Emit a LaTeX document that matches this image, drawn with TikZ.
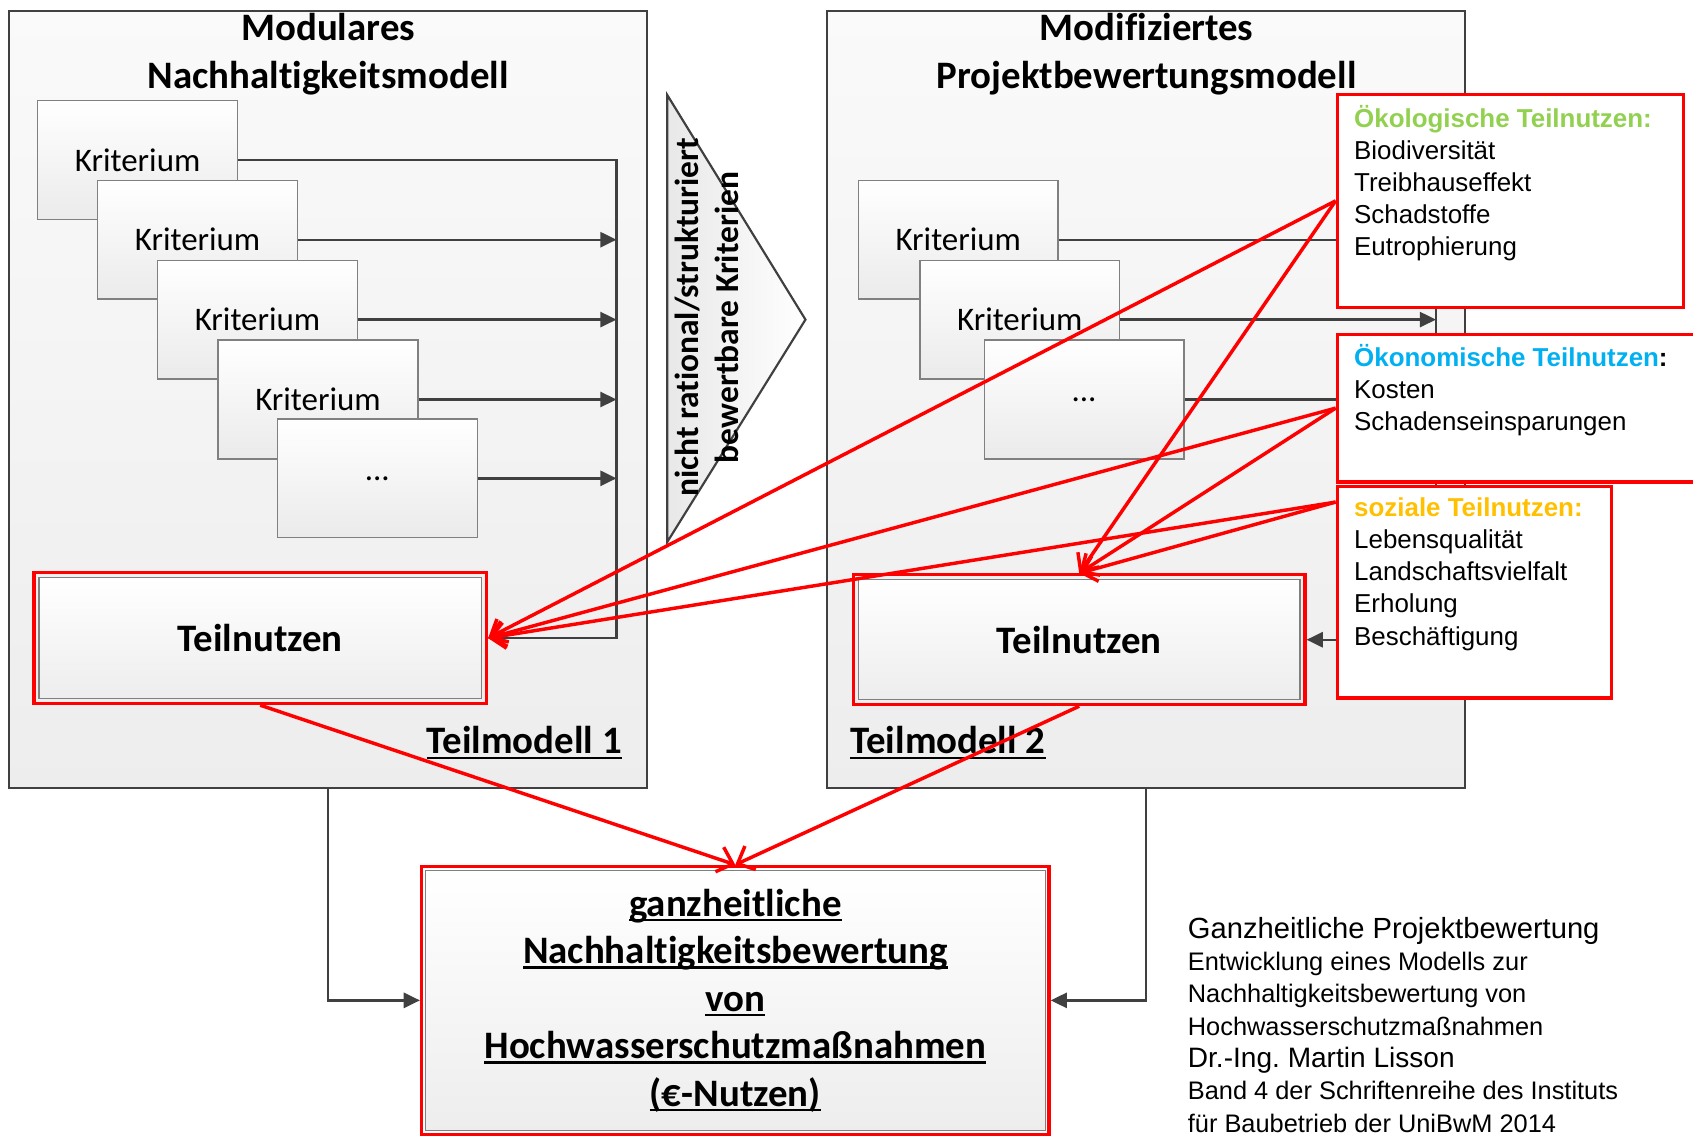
\documentclass[tikz,border=0pt]{standalone}
\usepackage{fontspec}
\setmainfont{Carlito}[Ligatures=NoCommon]
\newfontfamily\arialfont{Liberation Sans}
\usetikzlibrary{arrows.meta,fit}
\frenchspacing

\definecolor{dunkelgrau}{HTML}{404040}
\definecolor{rahmengrau}{HTML}{808080}
\definecolor{oekogruen}{HTML}{92D050}
\definecolor{oekoblau}{HTML}{00B0F0}
\definecolor{sozialgelb}{HTML}{FFC000}

% unterstrichener Text (dicker Strich wie im Original)
\newcommand{\unterstr}[1]{\setbox0\hbox{#1}\rlap{\rule[-5pt]{\wd0}{2.4pt}}\box0}

\tikzset{
  modbox/.style={draw=dunkelgrau, line width=2pt, top color=white!98!black,
    bottom color=white!93!black, minimum width=591pt, minimum height=720pt, inner sep=0pt},
  titel/.style={align=center, font=\bfseries\fontsize{36}{44}\selectfont},
  kritbox/.style={draw=rahmengrau, line width=1.2pt, top color=white, bottom color=black!8,
    minimum width=185pt, minimum height=110pt, inner sep=0pt, font=\fontsize{30.5}{36}\selectfont},
  teilbox/.style={draw=rahmengrau, line width=1.2pt, top color=white, bottom color=black!7,
    inner sep=0pt, font=\bfseries\fontsize{36}{44}\selectfont},
  rotrahmen/.style={draw=red, line width=3pt, inner sep=4pt},
  infobox/.style={draw=red, line width=3pt, fill=white, inner sep=0pt, anchor=north west},
  infotext/.style={align=left, inner sep=0pt, anchor=north west,
    font=\arialfont\fontsize{24}{29.7}\selectfont},
  graupfeil/.style={draw=dunkelgrau, line width=2.2pt, -{Triangle[length=15pt,width=14pt]}},
  graulinie/.style={draw=dunkelgrau, line width=2.2pt},
  rotpfeil/.style={draw=red, line width=3.2pt, -{Straight Barb[length=13pt,width=24pt]}},
  modname/.style={font=\bfseries\fontsize{36}{44}\selectfont, inner sep=0pt}
}

\begin{document}
\begin{tikzpicture}[x=1pt,y=-1pt]
\useasboundingbox (0,0) rectangle (1568,1052);

% Teilmodell 1
\node[modbox] (modL) at (303.5,370) {};
\node[titel] (titelL) at (304,50) {Modulares\\Nachhaltigkeitsmodell};
\node[kritbox] (kritL1) at (127.5,148) {Kriterium};
\node[kritbox] (kritL2) at (183,222) {Kriterium};
\node[kritbox] (kritL3) at (238.5,296) {Kriterium};
\node[kritbox] (kritL4) at (294.5,370) {Kriterium};
\node[kritbox] (kritL5) at (349.5,443) {...};
\node[teilbox, minimum width=410pt, minimum height=112pt] (teilL) at (241,591) {Teilnutzen};
\node[rotrahmen, fit=(teilL)] (teilLrot) {};
\coordinate (sammelL) at (571,148);
\draw[graupfeil] (kritL1.east) -- (sammelL) |- (teilLrot.east);
\draw[graupfeil] (kritL2.east) -- (kritL2.east -| sammelL);
\draw[graupfeil] (kritL3.east) -- (kritL3.east -| sammelL);
\draw[graupfeil] (kritL4.east) -- (kritL4.east -| sammelL);
\draw[graupfeil] (kritL5.east) -- (kritL5.east -| sammelL);
\node[modname] (nameL) at (485.5,688) {\unterstr{Teilmodell 1}};

% Pfeil in der Mitte
\filldraw[draw=dunkelgrau, line width=2pt, left color=black!9, right color=white]
  (618,88) -- (746,296) -- (618,502) -- cycle;
\node[align=center, rotate=90, inner sep=0pt, font=\bfseries\fontsize{31}{37}\selectfont]
  (pfeiltext) at (655,294) {nicht rational/strukturiert\\bewertbare Kriterien};

% Teilmodell 2
\node[modbox] (modR) at (1061.5,370) {};
\node[titel] (titelR) at (1062,50) {Modifiziertes\\Projektbewertungsmodell};
\node[kritbox] (kritR1) at (887.5,222) {Kriterium};
\node[kritbox] (kritR2) at (944.5,296) {Kriterium};
\node[kritbox] (kritR3) at (1004,370) {...};
\node[teilbox, minimum width=409pt, minimum height=111pt] (teilR) at (999.5,592.5) {Teilnutzen};
\node[rotrahmen, fit=(teilR)] (teilRrot) {};
\coordinate (sammelR) at (1330,222);
\draw[graupfeil] (kritR1.east) -- (sammelR) |- (teilRrot.east);
\draw[graupfeil] (kritR2.east) -- (kritR2.east -| sammelR);
\draw[graulinie] (kritR3.east) -- (kritR3.east -| sammelR);
\node[modname] (nameR) at (878,688) {\unterstr{Teilmodell 2}};

% Teilnutzen-Kaesten
\node[infobox, minimum width=321pt, minimum height=197pt] (oekol) at (1237,86) {};
\node[infotext] (oekolText) at (1254,97)
  {\textcolor{oekogruen}{\bfseries Ökologische Teilnutzen:}\\Biodiversität\\Treibhauseffekt\\Schadstoffe\\Eutrophierung};
\node[infobox, minimum width=345pt, minimum height=137pt] (oekon) at (1237,308) {};
\node[infotext] (oekonText) at (1254,319)
  {{\bfseries\textcolor{oekoblau}{Ökonomische Teilnutzen}:}\\Kosten\\Schadenseinsparungen};
\node[infobox, minimum width=254pt, minimum height=196pt] (sozial) at (1237,449) {};
\node[infotext] (sozialText) at (1254,461)
  {\textcolor{sozialgelb}{\bfseries soziale Teilnutzen:}\\Lebensqualität\\Landschaftsvielfalt\\Erholung\\Beschäftigung};
\coordinate (sozialA) at (1237,465);

% Gesamtbewertung
\node[teilbox, minimum width=574pt, minimum height=241pt, align=center] (gesamt) at (681,926.5)
  {\unterstr{ganzheitliche}\\\unterstr{Nachhaltigkeitsbewertung}\\\unterstr{von}\\\unterstr{Hochwasserschutzmaßnahmen}\\\unterstr{(€-Nutzen)}};
\node[rotrahmen, inner sep=3pt, fit=(gesamt)] (gesamtrot) {};
\draw[graupfeil] (modL.south) |- (gesamtrot.west);
\draw[graupfeil] (modR.south) |- (gesamtrot.east);

% rote Zuordnungen
\draw[rotpfeil] (oekol.west) -- (teilLrot.east);
\draw[rotpfeil] (oekon.west) -- (teilLrot.east);
\draw[rotpfeil] (sozialA) -- (teilLrot.east);
\draw[rotpfeil] (oekol.west) -- (teilRrot.north);
\draw[rotpfeil] (oekon.west) -- (teilRrot.north);
\draw[rotpfeil] (sozialA) -- (teilRrot.north);
\draw[rotpfeil] (teilLrot.south) -- (gesamtrot.north);
\draw[rotpfeil] (teilRrot.south) -- (gesamtrot.north);

% Quelle
\node[align=left, inner sep=0pt, anchor=north west, font=\arialfont\fontsize{23.5}{30}\selectfont]
  (quelle) at (1100,849)
  {{\fontsize{27}{30}\selectfont Ganzheitliche Projektbewertung}\\
   Entwicklung eines Modells zur\\
   Nachhaltigkeitsbewertung von\\
   Hochwasserschutzmaßnahmen\\
   {\fontsize{26}{30}\selectfont Dr.-Ing. Martin Lisson}\\
   Band 4 der Schriftenreihe des Instituts\\
   für Baubetrieb der UniBwM 2014};
\end{tikzpicture}
\end{document}
